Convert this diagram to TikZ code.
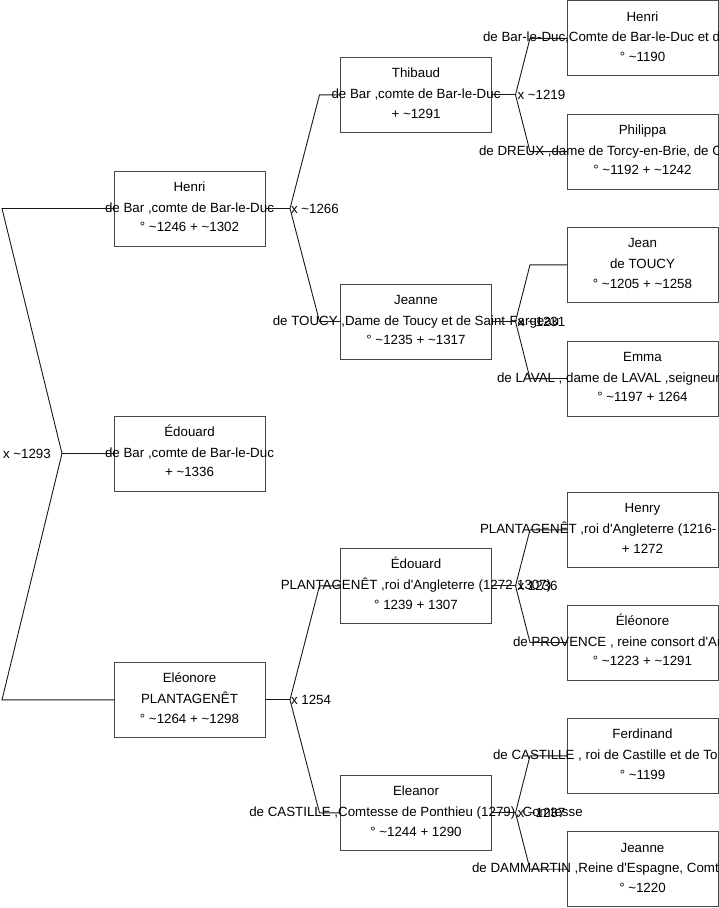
\documentclass[tikz,border=0pt]{standalone}
\usepackage{fontspec}
\setmainfont{Liberation Sans}[Ligatures=TeXOff]
\usetikzlibrary{calc}
\newcommand{\ti}{\char126\relax}
\newcommand{\ap}{\char39\relax}
\tikzset{
  pbox/.style={draw=black!72, line width=1pt, minimum width=151pt, minimum height=75pt, inner sep=0pt, outer sep=0pt},
  txt/.style={anchor=base, inner sep=0pt, outer sep=0pt, font=\fontsize{13.33}{16}\selectfont},
  txtw/.style={anchor=base west, inner sep=0pt, outer sep=0pt, font=\fontsize{13.33}{16}\selectfont},
  lbl/.style={anchor=west, inner sep=0pt, outer sep=0pt, font=\fontsize{13.33}{16}\selectfont},
  conn/.style={draw=black!90, line width=0.9pt}
}
% person box with centered lines
\newcommand{\pers}[6]{%
  \node[pbox] (#1) at (#2,#3) {};
  \node[txt] (#1-a) at ($(#1.center)+(0,-17)$) {#4};
  \node[txt] (#1-b) at ($(#1.center)+(0,3.5)$) {#5};
  \node[txt] (#1-c) at ($(#1.center)+(0,23.3)$) {#6};
}
% person box whose middle line runs off the page (placed by its left end)
\newcommand{\persL}[7]{%
  \node[pbox] (#1) at (#2,#3) {};
  \node[txt] (#1-a) at ($(#1.center)+(0,-17)$) {#4};
  \node[txtw] (#1-b) at ($(#5,#3)+(0,3.5)$) {#6};
  \node[txt] (#1-c) at ($(#1.center)+(0,23.3)$) {#7};
}
% two-branch fork, level 2
\newcommand{\forkL}[4]{%
  \coordinate (#1v) at ($(#1.east)+(25,0)$);
  \draw[conn] (#1.east) -- (#1v);
  \draw[conn] (#1v) -- ($(#2.west)+(-21,0)$) -- (#2.west);
  \draw[conn] (#1v) -- ($(#3.west)+(-21,0)$) -- (#3.west);
  \node[lbl] (#1l) at ($(#1v)+(1,0)$) {#4};
}
% two-branch fork, level 3
\newcommand{\forkM}[4]{%
  \coordinate (#1v) at ($(#1.east)+(24,0)$);
  \draw[conn] (#1.east) -- (#1v);
  \draw[conn] (#1v) -- ($(#2.west)+(-37,0)$) -- (#2.west);
  \draw[conn] (#1v) -- ($(#3.west)+(-37,0)$) -- (#3.west);
  \node[lbl] (#1l) at ($(#1v)+(2,0)$) {#4};
}
\begin{document}
\begin{tikzpicture}[x=1pt,y=-1pt]
\useasboundingbox (0,0) rectangle (719,908);
\fill[white] (0,0) rectangle (719,908);

% level 1
\pers{A}{189.5}{208.5}{Henri}{de Bar ,comte de Bar-le-Duc}{° \ti1246 + \ti1302}
\pers{B}{189.5}{453.5}{Édouard}{de Bar ,comte de Bar-le-Duc}{+ \ti1336}
\pers{C}{189.5}{699.8}{Eléonore}{PLANTAGENÊT}{° \ti1264 + \ti1298}

% level 2
\pers{D}{416}{94.8}{Thibaud}{de Bar ,comte de Bar-le-Duc}{+ \ti1291}
\pers{E}{416}{321.5}{Jeanne}{de TOUCY ,Dame de Toucy et de Saint-Fargeau}{° \ti1235 + \ti1317}
\pers{F}{416}{585.8}{Édouard}{PLANTAGENÊT ,roi d\ap Angleterre (1272-1307)}{° 1239 + 1307}
\pers{G}{416}{812.8}{Eleanor}{de CASTILLE ,Comtesse de Ponthieu (1279), Comtesse}{° \ti1244 + 1290}

% level 3
\persL{H}{642.5}{38.3}{Henri}{483}{de Bar-le-Duc,Comte de Bar-le-Duc et d}{° \ti1190}
\persL{I}{642.5}{151.6}{Philippa}{479}{de DREUX ,dame de Torcy-en-Brie, de C}{° \ti1192 + \ti1242}
\pers{J}{642.5}{264.8}{Jean}{de TOUCY}{° \ti1205 + \ti1258}
\persL{K}{642.5}{378.5}{Emma}{497}{de LAVAL , dame de LAVAL ,seigneur}{° \ti1197 + 1264}
\persL{L}{642.5}{529.8}{Henry}{480}{PLANTAGENÊT ,roi d\ap Angleterre (1216-}{+ 1272}
\persL{M}{642.5}{642.5}{Éléonore}{513}{de PROVENCE , reine consort d\ap Ar}{° \ti1223 + \ti1291}
\persL{N}{642.5}{755.8}{Ferdinand}{493}{de CASTILLE , roi de Castille et de To}{° \ti1199}
\persL{O}{642.5}{869.2}{Jeanne}{472}{de DAMMARTIN ,Reine d\ap Espagne, Comte}{° \ti1220}

% root fork
\coordinate (r0) at (62,453.5);
\coordinate (r0a) at (2,208.5);
\coordinate (r0b) at (2,699.8);
\draw[conn] (A.west) -- (r0a) -- (r0) -- (B.west);
\draw[conn] (r0) -- (r0b) -- (C.west);
\node[lbl] (l0) at (3,453.5) {x \ti1293};

% level 2 forks
\forkL{A}{D}{E}{x \ti1266}
\forkL{C}{F}{G}{x 1254}

% level 3 forks
\forkM{D}{H}{I}{x \ti1219}
\forkM{E}{J}{K}{x \ti1231}
\forkM{F}{L}{M}{x 1236}
\forkM{G}{N}{O}{x \ti1237}
\end{tikzpicture}
\end{document}
